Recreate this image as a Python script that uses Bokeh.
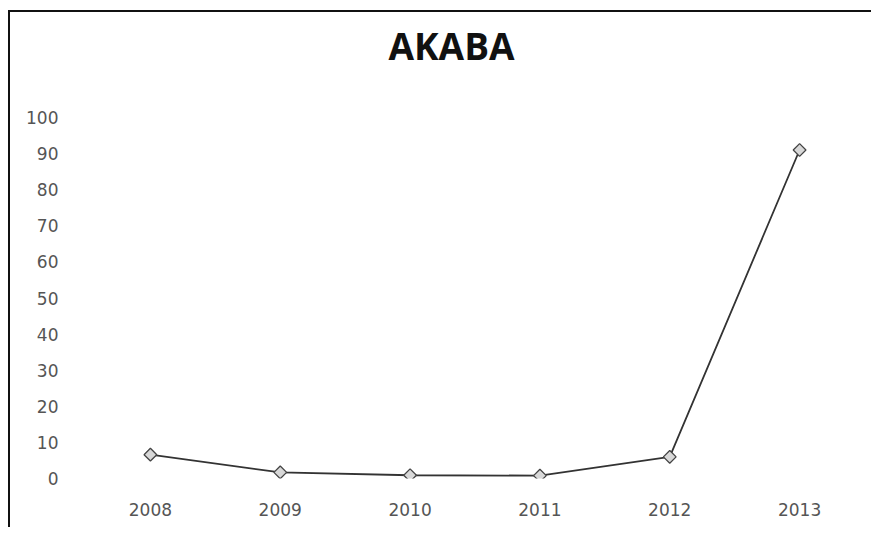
import math
from bokeh.plotting import figure
from bokeh.models import Range1d, FixedTicker, ColumnDataSource, Title
from bokeh.embed import file_html
from bokeh.resources import INLINE

years = ["2008", "2009", "2010", "2011", "2012", "2013"]
values = [6.6, 1.7, 0.9, 0.8, 6.0, 91.0]
y_ticks = [0, 10, 20, 30, 40, 50, 60, 70, 80, 90, 100]

src = ColumnDataSource(dict(x=years, y=values))

p = figure(width=863, height=517, x_range=years, y_range=Range1d(0, 100),
           output_backend="svg", toolbar_location=None,
           min_border_left=75, min_border_right=9, min_border_bottom=51,
           min_border_top=0)
p.title_location = None
p.margin = (10, 0, 0, 8)
p.styles = {"border-left": "2px solid #111", "border-top": "2px solid #111"}

# spacer between the title and the plot area (closest to the frame)
spacer = Title(text=" ", text_font_size="10px", standoff=29)
p.add_layout(spacer, "above")

main_title = Title(text="AKABA", align="left", offset=303,
                   text_font="Open Sans", text_font_style="bold",
                   text_font_size="37px", text_color="#111111", standoff=10)
p.add_layout(main_title, "above")

p.outline_line_color = None
p.grid.visible = False

for ax in (p.xaxis, p.yaxis):
    ax.axis_line_color = None
    ax.major_tick_line_color = None
    ax.minor_tick_line_color = None
    ax.major_label_text_font = "DejaVu Sans"
    ax.major_label_text_font_size = "17px"
    ax.major_label_text_color = "#555555"
p.yaxis.ticker = FixedTicker(ticks=y_ticks)
p.yaxis.major_label_standoff = 21
p.xaxis.major_label_standoff = 18

p.line("x", "y", source=src, line_color="#333333", line_width=1.8)
p.scatter("x", "y", source=src, marker="square", angle=math.pi / 4, size=9,
          fill_color="#d8d8d8", line_color="#444444", line_width=1.3)

open("out.html", "w").write(file_html(p, INLINE))
